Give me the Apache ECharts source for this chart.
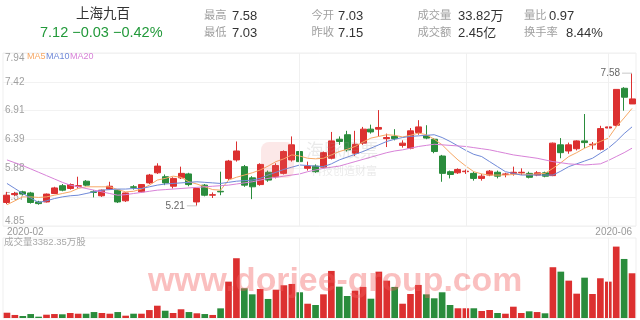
<!DOCTYPE html>
<html><head><meta charset="utf-8">
<script src="https://cdn.jsdelivr.net/npm/echarts/dist/echarts.min.js"></script>
<style>html,body{margin:0;padding:0;background:#fff}#c{width:640px;height:320px}</style>
</head><body><div id="c"></div>
<script>
// ---- categories (trading days) ----
const febDays = [10,11,12,13,14,17,18,19,20,21,24,25,26,27,28];
const marDays = [2,3,4,5,6,9,10,11,12,13,16,17,18,19,20,23,24,25,26,27,30,31];
const aprDays = [1,2,3,7,8,9,10,13,14,15,16,17,20,21,22,23,24,27,28,29,30];
const mayDays = [6,7,8,11,12,13,14,15,18,19,20,21,22,25,26,27,28,29];
const junDays = [1,2,3,4];
const monthStarts = ['2020-04-01','2020-05-06','2020-06-01'];
const xEndLabels = ['2020-02','2020-06'];

// ---- candle values ----
const opens  = [5.27,5.41,5.46,5.44,5.28,5.28,5.43,5.57,5.52,5.56,5.65,5.46,5.39,5.51,5.49,5.30,5.55,5.46,5.62,5.80,
                5.73,5.56,5.71,5.78,5.28,5.58,5.40,5.47,5.70,6.03,5.91,5.71,5.59,5.81,5.73,5.79,6.03,6.18,5.88,5.92,
                5.90,6.06,6.40,6.48,6.15,6.33,6.58,6.58,6.41,6.45,6.29,6.24,6.52,6.46,6.40,6.10,5.82,5.80,5.82,5.79,
                5.70,5.76,5.81,5.77,5.79,5.80,5.79,5.76,5.80,5.75,6.30,6.19,6.23,6.37,6.30,6.22,6.60,6.65,7.31,7.03];
const closes = [5.40,5.43,5.42,5.27,5.25,5.42,5.53,5.49,5.59,5.57,5.58,5.45,5.49,5.56,5.28,5.44,5.54,5.59,5.76,5.92,
                5.62,5.70,5.79,5.59,5.52,5.40,5.41,5.46,6.01,6.19,5.58,5.55,5.95,5.67,5.93,6.18,6.30,6.00,5.92,5.82,
                6.16,6.37,6.36,6.21,6.31,6.58,6.53,6.61,6.43,6.41,6.33,6.55,6.62,6.42,6.18,5.79,5.77,5.86,5.83,5.70,
                5.74,5.83,5.74,5.78,5.81,5.81,5.72,5.80,5.74,6.33,6.16,6.30,6.37,6.34,6.31,6.59,6.62,7.29,7.15,7.12];
const lows   = [5.24,5.38,5.40,5.25,5.23,5.27,5.42,5.47,5.50,5.52,5.56,5.36,5.37,5.50,5.26,5.28,5.50,5.45,5.60,5.78,
                5.58,5.52,5.69,5.56,5.21,5.38,5.35,5.40,5.67,6.00,5.55,5.33,5.57,5.64,5.70,5.77,6.00,5.98,5.84,5.80,
                5.88,6.04,6.30,6.18,6.10,6.30,6.50,6.45,6.26,6.38,6.25,6.22,6.48,6.40,6.15,5.64,5.70,5.78,5.78,5.66,
                5.66,5.74,5.70,5.72,5.75,5.76,5.70,5.74,5.72,5.74,6.06,6.14,6.20,6.24,6.22,6.20,6.50,6.63,6.91,7.03];
const highs  = [5.46,5.46,5.48,5.46,5.30,5.43,5.55,5.60,5.61,5.73,5.67,5.49,5.50,5.64,5.50,5.45,5.58,5.60,5.78,5.97,
                5.77,5.72,5.91,5.80,5.53,5.60,5.45,5.82,6.03,6.36,5.94,5.74,5.97,5.84,5.97,6.20,6.45,6.22,6.00,5.95,
                6.18,6.53,6.45,6.55,6.55,6.62,6.66,6.92,6.50,6.58,6.38,6.60,6.74,6.65,6.42,6.12,5.84,5.88,5.86,5.82,
                5.78,5.85,5.84,5.80,5.91,5.88,5.82,5.83,5.82,6.34,6.42,6.34,6.38,6.85,6.35,6.64,6.67,7.29,7.33,7.58];
// volume, 万股
const volumes = [400,230,150,300,100,250,300,280,380,325,325,450,380,325,450,175,325,325,600,930,
                 550,380,660,450,355,300,230,730,2750,4520,2250,1790,2195,1440,2140,2475,2575,1945,1080,985,
                 1790,3560,2370,1665,2070,2350,1460,3505,2825,2350,1080,1815,2500,1790,1490,1945,985,735,735,735,
                 530,605,380,325,855,380,505,450,355,3840,3505,2825,1840,3050,1815,3005,2750,5400,4465,3382.35];
const ma5  = [5.23,5.30,5.37,5.37,5.36,5.37,5.40,5.43,5.46,5.52,5.55,5.55,5.55,5.55,5.50,5.46,5.47,5.51,5.58,5.67,
              5.70,5.74,5.72,5.64,5.60,5.55,5.50,5.49,5.67,5.72,5.76,5.80,5.85,5.92,6.00,6.05,6.12,6.10,6.06,6.05,
              6.06,6.12,6.18,6.22,6.27,6.35,6.42,6.45,6.48,6.47,6.44,6.47,6.51,6.48,6.40,6.30,6.16,6.03,5.92,5.82,
              5.78,5.76,5.76,5.76,5.77,5.78,5.77,5.78,5.79,5.88,5.98,6.09,6.16,6.24,6.30,6.36,6.42,6.62,6.78,6.95];
const ma10 = [5.61,5.52,5.43,5.35,5.27,5.30,5.34,5.37,5.39,5.40,5.43,5.46,5.49,5.50,5.51,5.51,5.52,5.52,5.55,5.58,
              5.60,5.61,5.62,5.63,5.64,5.63,5.62,5.61,5.63,5.65,5.66,5.67,5.70,5.76,5.81,5.86,5.90,5.94,5.93,5.92,
              5.91,5.96,6.03,6.08,6.13,6.18,6.24,6.30,6.36,6.40,6.43,6.45,6.46,6.47,6.48,6.43,6.36,6.28,6.20,6.13,
              6.09,6.00,5.91,5.82,5.79,5.76,5.76,5.76,5.76,5.76,5.83,5.91,5.96,6.01,6.06,6.15,6.24,6.36,6.50,6.62];
const ma20 = [6.03,5.98,5.93,5.87,5.81,5.75,5.69,5.63,5.58,5.55,5.52,5.49,5.46,5.43,5.40,5.41,5.43,5.45,5.47,5.49,
              5.50,5.51,5.52,5.53,5.54,5.55,5.56,5.57,5.58,5.60,5.62,5.64,5.67,5.70,5.72,5.74,5.76,5.78,5.82,5.85,
              5.88,5.90,5.92,5.96,6.00,6.04,6.08,6.12,6.16,6.19,6.21,6.24,6.27,6.29,6.31,6.30,6.29,6.28,6.27,6.25,
              6.23,6.21,6.18,6.15,6.12,6.10,6.08,6.06,6.03,6.00,5.98,5.96,5.95,5.94,5.95,5.96,6.02,6.09,6.16,6.24];
const yTickLabels = ['4.85','5.37','5.88','6.39','6.91','7.42','7.94'];
const yMin = 4.85, yMax = 7.94, yStep = 0.515;

// ---- header ----
const stockName = '上海九百';
const quoteRow1 = [['最高','7.58'],['今开','7.03'],['成交量','33.82万'],['量比','0.97']];
const quoteRow2 = [['最低','7.03'],['昨收','7.15'],['成交额','2.45亿'],['换手率','8.44%']];

const RED = '#dc3030', GREEN = '#2a8c3c';
const FONT = '"Liberation Sans","Noto Sans CJK SC",sans-serif';

const dates = [].concat(
  febDays.map(d => '2020-02-' + String(d).padStart(2,'0')),
  marDays.map(d => '2020-03-' + String(d).padStart(2,'0')),
  aprDays.map(d => '2020-04-' + String(d).padStart(2,'0')),
  mayDays.map(d => '2020-05-' + String(d).padStart(2,'0')),
  junDays.map(d => '2020-06-' + String(d).padStart(2,'0')));
const N = dates.length;
const candles = opens.map((o,i) => [o, closes[i], lows[i], highs[i]]);
const volData = volumes.map((v,i) => ({value: v, itemStyle: {color: closes[i] >= opens[i] ? RED : GREEN}}));

let hiIdx = 0, loIdx = 0;
highs.forEach((h,i) => { if (h > highs[hiIdx]) hiIdx = i; });
lows.forEach((l,i) => { if (l < lows[loIdx]) loIdx = i; });

const last = N - 1;
const chg = closes[last] - closes[last-1];
const pct = chg / closes[last-1] * 100;
const sgn = v => (v < 0 ? '\u2212' : '+') + Math.abs(v).toFixed(2);
const priceLine = closes[last].toFixed(2) + ' ' + sgn(chg) + ' ' + sgn(pct) + '%';

const graphics = [
  {type:'text', left: 76, top: 8, style:{text: stockName, fontSize: 13.5, fontFamily: FONT, fill:'#333'}},
  {type:'text', left: 40, top: 26, style:{text: priceLine, fontSize: 14.5, fontFamily: FONT, fill:'#22993a'}},
];
const colX = [[204,232],[311.5,338],[417.5,458],[524,549]];
const colX2 = [[204,232],[311.5,338],[417.5,458],[524,566]];
quoteRow1.forEach((p,k) => {
  graphics.push({type:'text', left: colX[k][0], top: 10.5, style:{text:p[0], fontSize:11.3, fontFamily:FONT, fill:'#a0a0a0'}});
  graphics.push({type:'text', left: colX[k][1], top: 9.5, style:{text:p[1], fontSize:13, fontFamily:FONT, fill:'#333'}});
});
quoteRow2.forEach((p,k) => {
  graphics.push({type:'text', left: colX2[k][0], top: 27.5, style:{text:p[0], fontSize:11.3, fontFamily:FONT, fill:'#a0a0a0'}});
  graphics.push({type:'text', left: colX2[k][1], top: 26.5, style:{text:p[1], fontSize:13, fontFamily:FONT, fill:'#333'}});
});
graphics.push({type:'text', left: 4, top: 238, style:{text:'成交量' + volumes[last].toFixed(2) + '万股', fontSize:9.5, fontFamily:FONT, fill:'#a8a8a8'}});
// watermarks
graphics.push({type:'rect', left: 261, top: 142, shape:{width:33, height:36, r:8}, style:{fill:'rgba(235,110,110,0.16)'}, z: 50});
graphics.push({type:'text', left: 306, top: 143, style:{text:'海豚股票', fontSize:18, fontFamily:FONT, fill:'rgba(160,160,160,0.22)'}, z: 50});
graphics.push({type:'text', left: 311, top: 166, style:{text:'科技创造财富', fontSize:11, fontFamily:FONT, fill:'rgba(160,160,160,0.22)'}, z: 50});
graphics.push({type:'text', left: 148, top: 265, style:{text:'www.dorjee-group.com', fontSize:33.8, fontWeight:'bold', fontFamily:FONT, fill:'rgba(242,95,95,0.40)'}, z: 50});

const chart = echarts.init(document.getElementById('c'), null, {renderer:'canvas'});
chart.setOption({
  animation: false,
  backgroundColor: '#fff',
  textStyle: {fontFamily: FONT},
  legend: {
    top: 52, left: 22, itemWidth: 0, itemHeight: 0, itemGap: -4.5, icon: 'none', padding: 0,
    textStyle: {fontSize: 9, fontFamily: FONT},
    data: [
      {name:'MA5', textStyle:{color:'#f7a865'}},
      {name:'MA10', textStyle:{color:'#6f89d8'}},
      {name:'MA20', textStyle:{color:'#d882d8'}}
    ]
  },
  grid: [
    {left: 3, right: 4, top: 53, height: 173, show: true, borderColor: '#efefef', borderWidth: 1},
    {left: 3, right: 4, top: 238, height: 80, show: true, borderColor: '#efefef', borderWidth: 1}
  ],
  xAxis: [
    {type:'category', gridIndex:0, data: dates, boundaryGap: true,
     axisLine:{show:false}, axisTick:{show:false}, splitLine:{show:false},
     axisLabel:{show:true, margin: 1, fontSize: 10, color:'#999', fontFamily: FONT,
       interval: (i) => i === 0 || i === N-1,
       alignMinLabel: 'left', alignMaxLabel: 'right',
       formatter: (v, i) => i === 0 ? xEndLabels[0] : xEndLabels[1]}},
    {type:'category', gridIndex:1, data: dates, boundaryGap: true,
     axisLine:{show:false}, axisTick:{show:false}, axisLabel:{show:false}, splitLine:{show:false}}
  ],
  yAxis: [
    {type:'value', gridIndex:0, min: yMin, max: yMax, interval: yStep, scale: true,
     axisLine:{show:false}, axisTick:{show:false},
     splitLine:{show:true, lineStyle:{color:'#f2f2f2', width:1}},
     axisLabel:{inside:true, margin: 2, fontSize: 10, color:'#a0a0a0', fontFamily: FONT,
       verticalAlignMinLabel:'bottom', verticalAlignMaxLabel:'top',
       formatter: (v) => yTickLabels[Math.round((v - yMin) / yStep)]}},
    {type:'value', gridIndex:1, min: 0, max: 6050, show: false, splitLine:{show:false}}
  ],
  series: [
    {type:'candlestick', name:'K', xAxisIndex:0, yAxisIndex:0, data: candles, barWidth:'82%',
     itemStyle:{color: RED, color0: GREEN, borderColor: RED, borderColor0: GREEN, borderColorDoji: RED, borderWidth: 1},
     markPoint: {
       symbol:'rect', symbolSize:[10,1], symbolOffset:[-5,0], animation:false, silent:true,
       itemStyle:{color:'#c8c8c8'},
       label:{show:true, position:'left', distance:2, fontSize:10, color:'#666', fontFamily: FONT},
       data: [
         {coord:[hiIdx, highs[hiIdx]], value: highs[hiIdx], label:{formatter: highs[hiIdx].toFixed(2)}},
         {coord:[loIdx, lows[loIdx]], value: lows[loIdx], label:{formatter: lows[loIdx].toFixed(2)}}
       ]
     },
     markLine: {silent:true, symbol:'none', label:{show:false}, animation:false,
       lineStyle:{color:'#f0f0f0', type:'solid', width:1},
       data: monthStarts.map(d => ({xAxis: d}))}
    },
    {type:'line', name:'MA5', xAxisIndex:0, yAxisIndex:0, data: ma5, showSymbol:false, symbol:'none', lineStyle:{width:1, color:'#f7a865'}, itemStyle:{color:'#f7a865'}, z:3},
    {type:'line', name:'MA10', xAxisIndex:0, yAxisIndex:0, data: ma10, showSymbol:false, symbol:'none', lineStyle:{width:1, color:'#6f89d8'}, itemStyle:{color:'#6f89d8'}, z:3},
    {type:'line', name:'MA20', xAxisIndex:0, yAxisIndex:0, data: ma20, showSymbol:false, symbol:'none', lineStyle:{width:1, color:'#d882d8'}, itemStyle:{color:'#d882d8'}, z:3},
    {type:'bar', name:'VOL', xAxisIndex:1, yAxisIndex:1, data: volData, barWidth:'84%',
     markLine: {silent:true, symbol:'none', label:{show:false}, animation:false,
       lineStyle:{color:'#f0f0f0', type:'solid', width:1},
       data: monthStarts.map(d => ({xAxis: d}))}}
  ],
  graphic: graphics
});
</script>
</body></html>
